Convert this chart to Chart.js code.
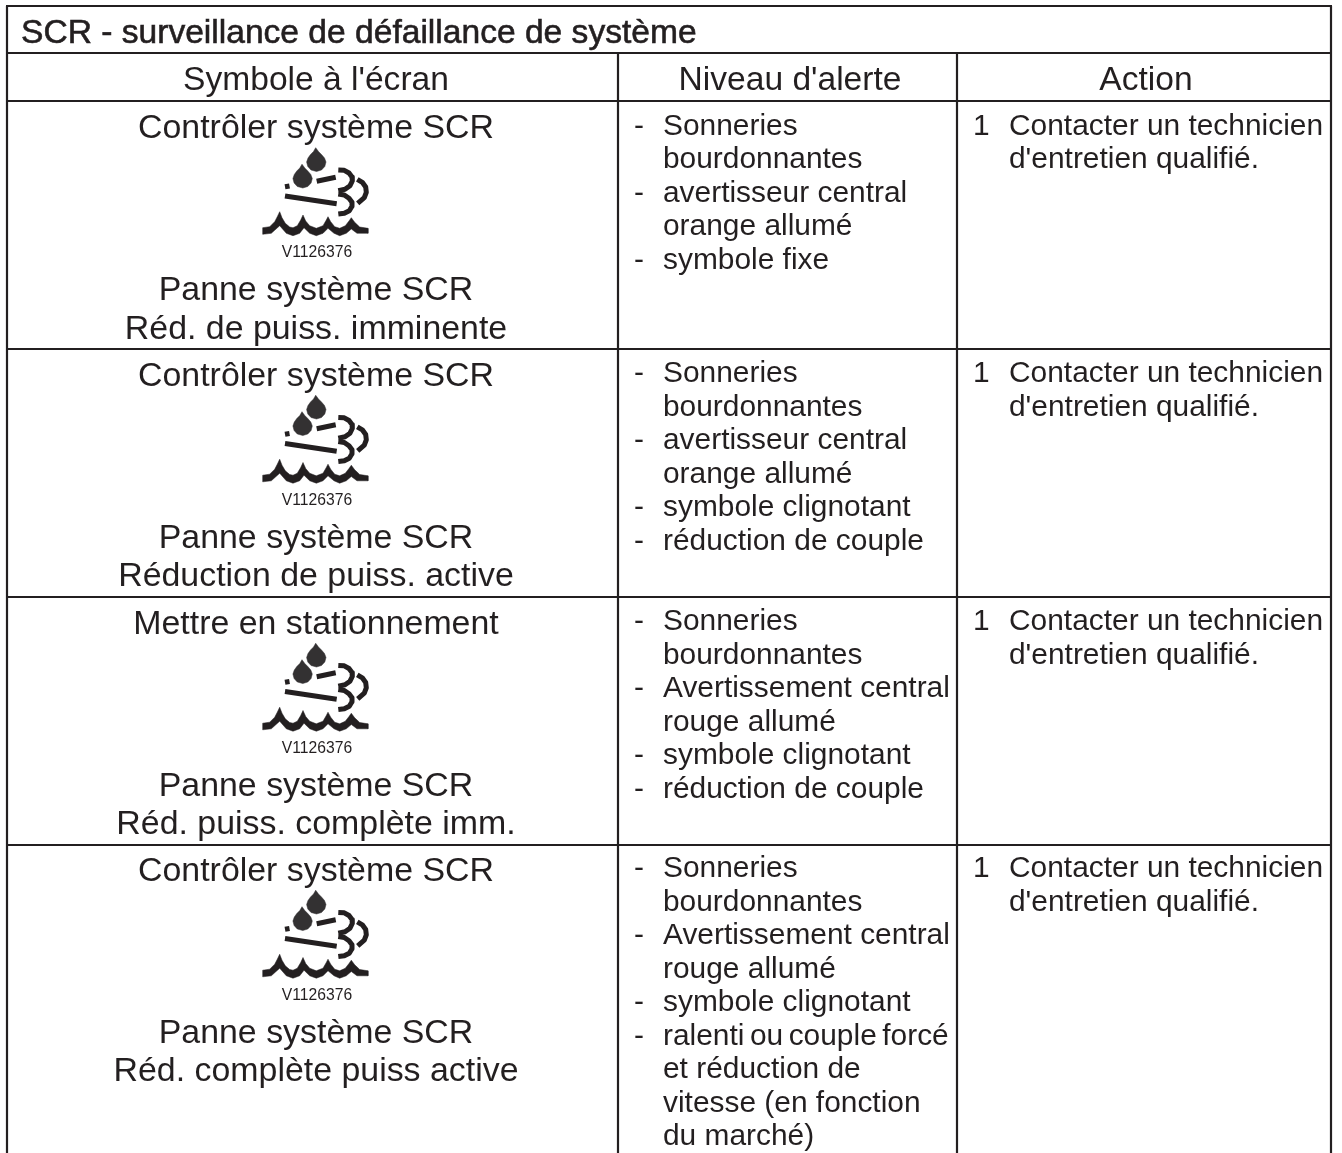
<!DOCTYPE html>
<html lang="fr">
<head>
<meta charset="utf-8">
<title>SCR - surveillance de défaillance de système</title>
<script src="https://cdn.jsdelivr.net/npm/chart.js@4"></script>
<style>
  html, body { margin: 0; padding: 0; background: #ffffff; overflow: hidden; }
  canvas { display: block; }
</style>
</head>
<body>
<canvas id="tableChart" width="1342" height="1153"></canvas>
<script>
// Table text
const titleText = "SCR - surveillance de défaillance de système";
const headerLabels = ["Symbole à l'écran", "Niveau d'alerte", "Action"];
const iconCaption = "V1126376";
const symbolTop = ["Contrôler système SCR", "Contrôler système SCR", "Mettre en stationnement", "Contrôler système SCR"];
const symbolBottom = [
    ["Panne système SCR", "Réd. de puiss. imminente"],
    ["Panne système SCR", "Réduction de puiss. active"],
    ["Panne système SCR", "Réd. puiss. complète imm."],
    ["Panne système SCR", "Réd. complète puiss active"]
];
const alertItems = [
    [["Sonneries", "bourdonnantes"], ["avertisseur central", "orange allumé"], ["symbole fixe"]],
    [["Sonneries", "bourdonnantes"], ["avertisseur central", "orange allumé"], ["symbole clignotant"], ["réduction de couple"]],
    [["Sonneries", "bourdonnantes"], ["Avertissement central", "rouge allumé"], ["symbole clignotant"], ["réduction de couple"]],
    [["Sonneries", "bourdonnantes"], ["Avertissement central", "rouge allumé"], ["symbole clignotant"],
     ["ralenti ou couple forcé", "et réduction de", "vitesse (en fonction", "du marché)"]]
];
const tightLine = "ralenti ou couple forcé"; // set with narrow word gaps in the original
const actionNumber = "1";
const actionLines = ["Contacter un technicien", "d'entretien qualifié."];

// Table rules, in page units
const columnEdges = [7, 618, 957, 1331];
const rowEdges = [6, 53, 101, 349, 597, 845];
const pageBottom = 1153;
const rowStarts = [0, 247.5, 495.5, 742.5];

// Icon outlines for the first row, the others are shifted by rowStarts
const dropOutline = [[315.7,147.7],[318.5,151.5],[321.5,154.5],[324.5,158],[326,162],[324.8,166.5],[321.5,170],[316.5,171.5],
    [311,170],[307.8,166.5],[306.6,162],[308,158],[310.5,154.5],[313.5,151.5],[315.7,147.7]];
const secondDropOutline = [[302,164.2],[304.8,168],[307.8,171],[310.8,174.5],[312.3,178.5],[311.1,183],[307.8,186.5],[302.8,188],
    [297.3,186.5],[294.1,183],[292.9,178.5],[294.3,174.5],[296.8,171],[299.8,168],[302,164.2]];
const waveOutline = [[262.7,227.7],[269.7,226.7],[274.7,221.7],[277.3,216.7],[279.7,211.7],[282,217.7],[285.3,223.3],[289.7,227],
    [293,227.7],[297.3,225.7],[300.7,220],[303,215],[305.7,221],[309.7,225.7],[316.3,228.3],[323,225.7],[326.3,220],[328,216.7],
    [330.7,221.7],[334.7,226.7],[339.7,228.3],[345.3,225.7],[349,221],[351.3,217.7],[354.7,222.3],[359.7,227],[368,228.3],
    [368,233.3],[357,233.3],[351.3,229],[346.3,233.3],[339.7,235.7],[334,233.3],[328,228.3],[323,233.3],[316.3,235.7],[309.7,233.3],
    [304,227.7],[299.7,233.3],[293,235.7],[286.3,233.3],[279.7,225.7],[271.3,233.3],[262.7,234.3],[262.7,227.7]];
const iconStrokes = [
    [[316.7,181.2],[335.7,177.3]],
    [[285,186.8],[289.5,186]],
    [[285,196],[336.7,203.7]],
    [[338.3,170],[344.3,170.3],[349,173],[352,177],[352.3,181],[350,185.7],[345,189.3],[338.3,190.7]],
    [[338.3,194],[344.3,195],[349,198.3],[352,202.3],[352,206.3],[349.3,210.7],[344.3,213.3],[338.3,214]],
    [[357.3,179.3],[362.3,182.3],[365.7,187],[366.3,192.3],[364.3,197.7],[357.7,203.3]]
];

const ink = '#231f20';
const dropInk = '#333132';

function toPoints(outline, dy) {
    return outline.map(p => ({ x: p[0], y: p[1] + dy }));
}

function ruleDataset(x1, y1, x2, y2) {
    return {
        data: [{ x: x1, y: y1 }, { x: x2, y: y2 }],
        showLine: true,
        borderColor: ink,
        borderWidth: 2.2,
        pointRadius: 0,
        fill: false
    };
}

function shapeDataset(outline, dy, colour) {
    return {
        data: toPoints(outline, dy),
        showLine: true,
        borderColor: colour,
        borderWidth: 0.5,
        backgroundColor: colour,
        pointRadius: 0,
        fill: 'shape'
    };
}

function buildDatasets() {
    const sets = [];
    const left = columnEdges[0];
    const right = columnEdges[3];

    // Horizontal rules
    rowEdges.forEach(y => sets.push(ruleDataset(left - 1, y, right + 1, y)));
    // Outer edges run off the page, the inner columns start under the title
    sets.push(ruleDataset(left, rowEdges[0], left, pageBottom));
    sets.push(ruleDataset(right, rowEdges[0], right, pageBottom));
    sets.push(ruleDataset(columnEdges[1], rowEdges[1], columnEdges[1], pageBottom));
    sets.push(ruleDataset(columnEdges[2], rowEdges[1], columnEdges[2], pageBottom));

    // Four copies of the icon
    rowStarts.forEach(dy => {
        sets.push(shapeDataset(dropOutline, dy, dropInk));
        sets.push(shapeDataset(secondDropOutline, dy, dropInk));
        sets.push(shapeDataset(waveOutline, dy, ink));
        iconStrokes.forEach(stroke => {
            sets.push({
                data: toPoints(stroke, dy),
                showLine: true,
                borderColor: ink,
                borderWidth: 5,
                borderJoinStyle: 'round',
                pointRadius: 0,
                fill: false
            });
        });
    });
    return sets;
}

// Writes all the table text, placed through the chart scales
const tableTextPlugin = {
    id: 'tableText',
    afterDatasetsDraw(chart) {
        const c = chart.ctx;
        const sx = chart.scales.x;
        const sy = chart.scales.y;
        const put = (text, x, y, align, size, bold) => {
            c.font = size + 'px "Liberation Sans", Arial, sans-serif';
            c.textAlign = align;
            c.textBaseline = 'alphabetic';
            c.fillStyle = ink;
            c.wordSpacing = text === tightLine ? '-2.8px' : '0px';
            c.fillText(text, sx.getPixelForValue(x), sy.getPixelForValue(y));
            if (bold) {
                c.strokeStyle = ink;
                c.lineWidth = 0.6;
                c.strokeText(text, sx.getPixelForValue(x), sy.getPixelForValue(y));
            }
        };
        const headSize = 33.6;
        const symbolSize = 33.9;
        const bodySize = 29.9;
        const lineStep = 33.5;
        const symbolCentre = 316;

        c.save();
        put(titleText, 21, 43, 'left', headSize, true);
        put(headerLabels[0], symbolCentre, 90, 'center', headSize);
        put(headerLabels[1], 790, 90, 'center', headSize);
        put(headerLabels[2], 1146, 90, 'center', headSize);

        rowStarts.forEach((dy, r) => {
            put(symbolTop[r], symbolCentre, 138 + dy, 'center', symbolSize);
            put(iconCaption, 317, 257 + dy, 'center', 15.7);
            symbolBottom[r].forEach((line, i) => {
                put(line, symbolCentre, 300 + dy + i * 38.5, 'center', symbolSize);
            });

            let n = 0;
            alertItems[r].forEach(item => {
                put('-', 634, 134.5 + dy + n * lineStep, 'left', bodySize);
                item.forEach(line => {
                    put(line, 663, 134.5 + dy + n * lineStep, 'left', bodySize);
                    n++;
                });
            });

            put(actionNumber, 973, 134.5 + dy, 'left', bodySize);
            actionLines.forEach((line, i) => {
                put(line, 1009, 134.5 + dy + i * lineStep, 'left', bodySize);
            });
        });
        c.restore();
    }
};

new Chart(document.getElementById('tableChart').getContext('2d'), {
    type: 'scatter',
    data: { datasets: buildDatasets() },
    plugins: [tableTextPlugin],
    options: {
        responsive: false,
        animation: false,
        layout: { padding: 0 },
        plugins: {
            legend: { display: false },
            tooltip: { enabled: false },
            title: { display: false }
        },
        scales: {
            x: { type: 'linear', min: 0, max: 1342, display: false },
            y: { type: 'linear', min: 0, max: 1153, reverse: true, display: false }
        }
    }
});
</script>
</body>
</html>
